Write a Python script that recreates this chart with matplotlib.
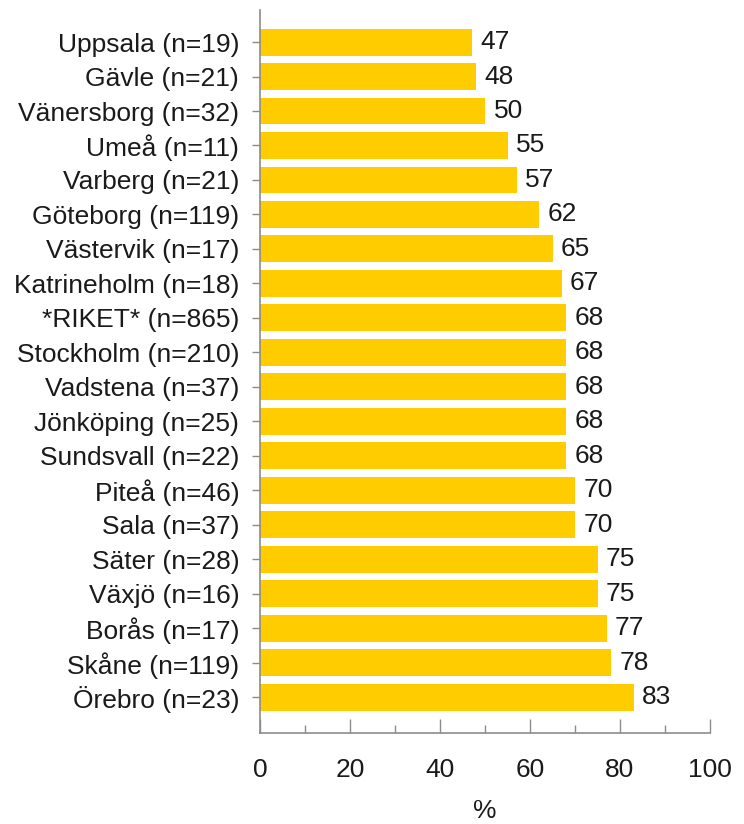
import matplotlib.pyplot as plt
from matplotlib.ticker import MultipleLocator

plt.rcParams["font.family"] = ["Liberation Sans", "DejaVu Sans"]

# data, top to bottom
categories = [
    "Uppsala (n=19)", "Gävle (n=21)", "Vänersborg (n=32)", "Umeå (n=11)",
    "Varberg (n=21)", "Göteborg (n=119)", "Västervik (n=17)",
    "Katrineholm (n=18)", "*RIKET* (n=865)", "Stockholm (n=210)",
    "Vadstena (n=37)", "Jönköping (n=25)", "Sundsvall (n=22)",
    "Piteå (n=46)", "Sala (n=37)", "Säter (n=28)", "Växjö (n=16)",
    "Borås (n=17)", "Skåne (n=119)", "Örebro (n=23)",
]
values = [47, 48, 50, 55, 57, 62, 65, 67, 68, 68, 68, 68, 68, 70, 70, 75, 75, 77, 78, 83]

BAR_COLOR = "#FFCC00"
AXIS_COLOR = "#8c8c8c"
TEXT_COLOR = "#1a1a1a"
FS = 19

fig = plt.figure(figsize=(7.44, 8.24), dpi=100)
ax = fig.add_axes([260 / 744, (824 - 733) / 824, 450 / 744, (733 - 10) / 824])

y = list(range(len(categories)))
ax.barh(y, values, height=0.78, color=BAR_COLOR, edgecolor="none")

for yi, v in zip(y, values):
    ax.text(v + 1.9, yi, f"{v}", va="center", ha="left", fontsize=FS, color=TEXT_COLOR)

ax.set_xlim(0, 100)
ax.set_ylim(len(categories) - 1 + 1.04, -0.93)

ax.set_yticks(y)
ax.set_yticklabels(categories, fontsize=FS, color=TEXT_COLOR)
ax.tick_params(axis="y", length=6, width=1, color=AXIS_COLOR, pad=9)

ax.xaxis.set_major_locator(MultipleLocator(20))
ax.xaxis.set_minor_locator(MultipleLocator(10))
ax.tick_params(axis="x", which="major", direction="in", length=10, width=1,
               color=AXIS_COLOR, labelsize=FS, labelcolor=TEXT_COLOR, pad=18)
ax.tick_params(axis="x", which="minor", direction="in", length=6, width=1,
               color=AXIS_COLOR)
ax.set_xlabel("%", fontsize=FS, color=TEXT_COLOR, labelpad=12)

for side in ["top", "right"]:
    ax.spines[side].set_visible(False)
for side in ["left", "bottom"]:
    ax.spines[side].set_color(AXIS_COLOR)
    ax.spines[side].set_linewidth(1.2)

fig.savefig("out.png", dpi=100)
